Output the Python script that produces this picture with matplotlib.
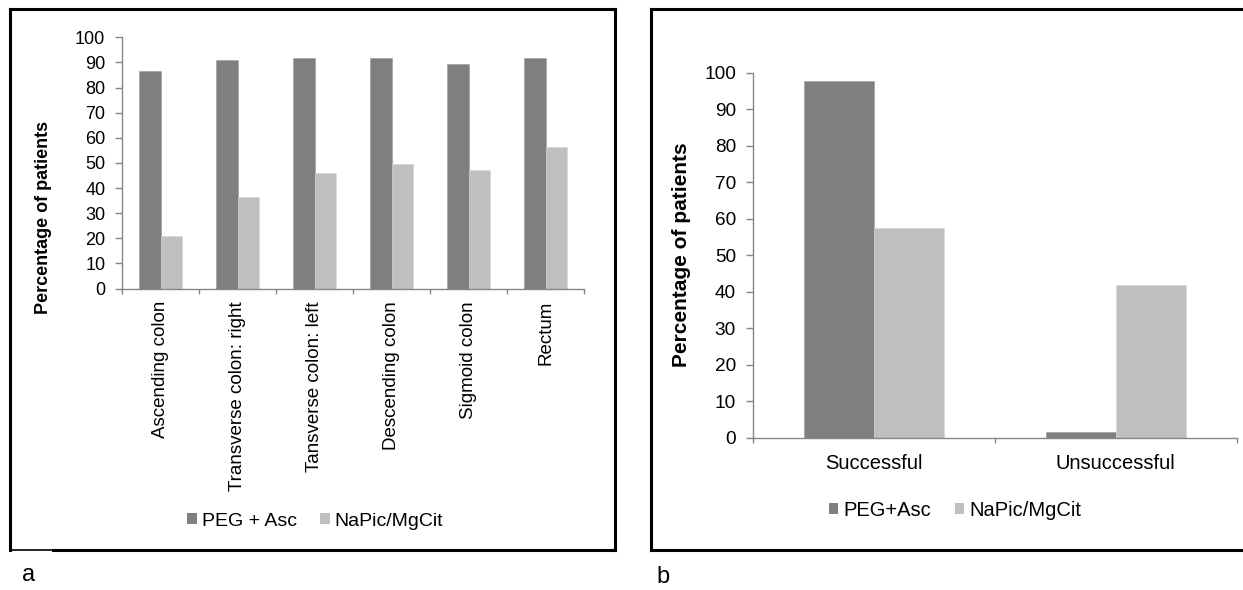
import matplotlib
matplotlib.use("Agg")
import matplotlib.pyplot as plt
import numpy as np
from matplotlib.lines import Line2D
from matplotlib.patches import Patch

# Panel a: adequate cleansing by colon segment
segments = ["Ascending colon", "Transverse colon: right", "Tansverse colon: left",
            "Descending colon", "Sigmoid colon", "Rectum"]
peg_asc_a = [86.7, 90.8, 91.6, 91.6, 89.4, 91.6]
napic_a = [20.8, 36.3, 46.1, 49.6, 47.1, 56.4]

# Panel b: overall cleansing outcome
outcomes = ["Successful", "Unsuccessful"]
peg_asc_b = [97.8, 1.6]
napic_b = [57.5, 41.8]

y_ticks = list(range(0, 101, 10))
series_a = ["PEG + Asc", "NaPic/MgCit"]
series_b = ["PEG+Asc", "NaPic/MgCit"]

DARK = "#7f7f7f"
LIGHT = "#bfbfbf"
AXIS = "#868686"

plt.rcParams["font.family"] = ["Liberation Sans", "DejaVu Sans"]

W, H = 1243, 590
fig = plt.figure(figsize=(W / 100, H / 100), dpi=100)


def fx(x):
    return x / W


def fy(y):
    return 1 - y / H


def axes_px(x0, y0, x1, y1):
    return fig.add_axes([fx(x0), fy(y1), fx(x1) - fx(x0), fy(y0) - fy(y1)])


def style_axes(ax, n, tick_size):
    for s in ("top", "right"):
        ax.spines[s].set_visible(False)
    for s in ("left", "bottom"):
        ax.spines[s].set_color(AXIS)
        ax.spines[s].set_linewidth(1.0)
    ax.set_ylim(0, 100)
    ax.set_xlim(-0.5, n - 0.5)
    ax.set_yticks(y_ticks)
    ax.tick_params(axis="y", direction="out", length=5, width=1.0,
                   color=AXIS, labelsize=tick_size, pad=7)
    ax.set_xticks(np.arange(n))
    ax.set_xticks(np.arange(n + 1) - 0.5, minor=True)
    ax.tick_params(axis="x", which="major", length=0)
    ax.tick_params(axis="x", which="minor", direction="out", length=3.6,
                   width=1.0, color=AXIS)


# ---- panel a ----
ax1 = axes_px(122, 37.3, 584, 288.5)
x = np.arange(len(segments))
bw = 0.273
ax1.bar(x - bw / 2, peg_asc_a, bw, color=DARK, edgecolor="#9a9a9a", linewidth=0.4)
ax1.bar(x + bw / 2, napic_a, bw, color=LIGHT, edgecolor="#d6d6d6", linewidth=0.4)
style_axes(ax1, len(segments), 13)
ax1.set_xticklabels(segments, rotation=90, fontsize=13.5, va="top", ha="center")
ax1.tick_params(axis="x", which="major", pad=9)
fig.text(fx(43.5), fy(217), "Percentage of patients", rotation=90,
         fontsize=13, fontweight="bold", ha="center", va="center")

handles_a = [Patch(facecolor=DARK), Patch(facecolor=LIGHT)]
fig.legend(handles_a, series_a, loc="center", bbox_to_anchor=(fx(315), fy(521)),
           ncol=2, frameon=False, fontsize=14, handlelength=0.5,
           handleheight=0.5, handletextpad=0.25, columnspacing=1.2)

# ---- panel b ----
ax2 = axes_px(752.7, 72.7, 1236.7, 437.7)
xb = np.arange(len(outcomes))
bw2 = 0.289
ax2.bar(xb - bw2 / 2, peg_asc_b, bw2, color=DARK, edgecolor="#9a9a9a", linewidth=0.4)
ax2.bar(xb + bw2 / 2, napic_b, bw2, color=LIGHT, edgecolor="#d6d6d6", linewidth=0.4)
style_axes(ax2, len(outcomes), 13.7)
ax2.set_xticklabels(outcomes, fontsize=14.5)
ax2.tick_params(axis="x", which="major", pad=12)
fig.text(fx(681.5), fy(255), "Percentage of patients", rotation=90,
         fontsize=15, fontweight="bold", ha="center", va="center")

handles_b = [Patch(facecolor=DARK), Patch(facecolor=LIGHT)]
fig.legend(handles_b, series_b, loc="center", bbox_to_anchor=(fx(955), fy(510)),
           ncol=2, frameon=False, fontsize=14.5, handlelength=0.45,
           handleheight=0.45, handletextpad=0.25, columnspacing=1.2)


# ---- panel frames ----
def frame_line(xs, ys, lw=2.2):
    fig.add_artist(Line2D([fx(v) for v in xs], [fy(v) for v in ys],
                          color="black", linewidth=lw,
                          solid_capstyle="projecting"))


frame_line([10, 10], [9, 550])
frame_line([10, 615], [9, 9])
frame_line([615, 615], [9, 550])
frame_line([10, 53], [549.5, 549.5], lw=1.2)
frame_line([53, 615], [550, 550])

frame_line([651, 651], [9, 550])
frame_line([651, 1250], [9, 9])
frame_line([651, 1250], [550, 550])

fig.text(fx(29), fy(575), "a", fontsize=17, ha="center", va="center")
fig.text(fx(662.5), fy(577), "b", fontsize=17, ha="center", va="center")

fig.savefig("out.png", dpi=100)
